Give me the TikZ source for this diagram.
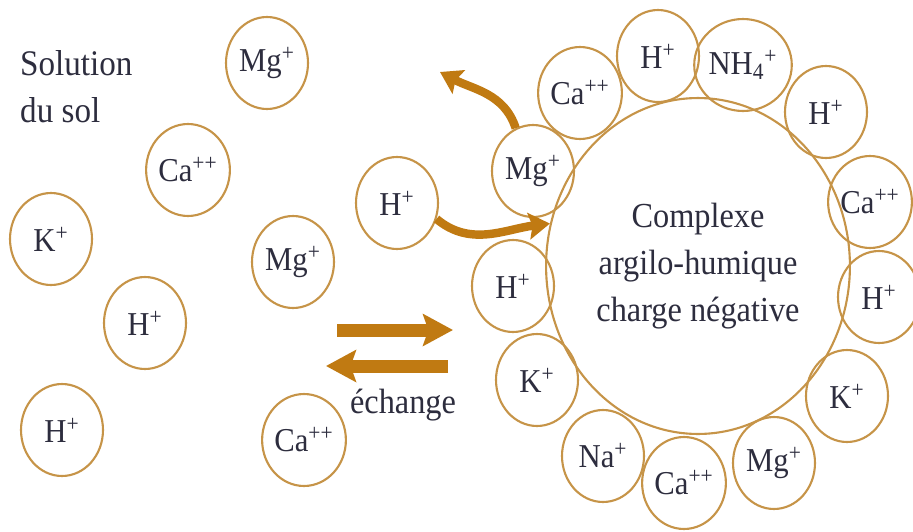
\documentclass[tikz,border=0pt]{standalone}
\usepackage{fontspec}
\setmainfont{Liberation Serif}[FakeStretch=0.92]
\usetikzlibrary{shapes.geometric,arrows.meta}
\definecolor{ionring}{RGB}{198,148,72}
\definecolor{flux}{RGB}{192,122,18}
\definecolor{encre}{RGB}{45,45,62}
\begin{document}
\begin{tikzpicture}[x=0.02cm, y=-0.02cm,
    ion/.style={ellipse, draw=ionring, line width=1.2pt, inner sep=0pt,
        minimum width=1.64cm, minimum height=1.84cm, text=encre,
        font=\fontsize{19}{21}\selectfont},
    fleche/.style={flux, line width=7.4pt, -{Stealth[length=17pt, width=18pt, inset=3pt]}},
    courbe/.style={flux, line width=4.8pt, -{Stealth[length=12pt, width=15pt, inset=2pt]}}]
    \useasboundingbox (0,0) rectangle (913,531);
    % Solution du sol
    \node[anchor=west, align=left, text=encre, font=\fontsize{20.5}{26.6}\selectfont] (titre) at (14,87) {Solution\\du sol};
    \node[ion] (mga) at (267,63) {Mg\textsuperscript{+}};
    \node[ion] (caa) at (188,170) {Ca\textsuperscript{++}};
    \node[ion] (ka) at (51,239) {K\textsuperscript{+}};
    \node[ion] (mgb) at (293,262) {Mg\textsuperscript{+}};
    \node[ion] (ha) at (145,323) {H\textsuperscript{+}};
    \node[ion] (hb) at (62,430) {H\textsuperscript{+}};
    \node[ion] (cab) at (304,440) {Ca\textsuperscript{++}};
    \node[ion] (hc) at (397,203) {H\textsuperscript{+}};
    % Complexe
    \node[ellipse, draw=ionring, line width=1.2pt, minimum width=5.8cm, minimum height=6.72cm,
        align=center, text=encre, font=\fontsize{20}{26.6}\selectfont] (cplx) at (698,266)
        {Complexe\\argilo-humique\\charge n\'egative};
    \node[ion] (r1) at (533,171) {Mg\textsuperscript{+}};
    \node[ion] (r2) at (580,93) {Ca\textsuperscript{++}};
    \node[ion] (r3) at (658,56) {H\textsuperscript{+}};
    \node[ion] (r4) at (743,65) {NH\textsubscript{4}\textsuperscript{+}};
    \node[ion] (r5) at (826,112) {H\textsuperscript{+}};
    \node[ion] (r6) at (870,202) {Ca\textsuperscript{++}};
    \node[ion] (r7) at (879,297) {H\textsuperscript{+}};
    \node[ion] (r8) at (847,396) {K\textsuperscript{+}};
    \node[ion] (r9) at (774,463) {Mg\textsuperscript{+}};
    \node[ion] (r10) at (684,483) {Ca\textsuperscript{++}};
    \node[ion] (r11) at (603,456) {Na\textsuperscript{+}};
    \node[ion] (r12) at (537,380) {K\textsuperscript{+}};
    \node[ion] (r13) at (513,286) {H\textsuperscript{+}};
    % Echange
    \coordinate (va) at (337,330);
    \coordinate (vb) at (453,330);
    \coordinate (ra) at (448,366);
    \coordinate (rb) at (326,366);
    \draw[fleche] (va) -- (vb);
    \draw[fleche] (ra) -- (rb);
    \node[text=encre, font=\fontsize{20}{22}\selectfont] (ech) at (403,405) {\'echange};
    \coordinate (sortie) at (440,72);
    \draw[courbe] (r1.112) to[out=108, in=-28] (sortie);
    \draw[courbe] (hc.-22) to[out=-40, in=187] (cplx.164);
\end{tikzpicture}
\end{document}
